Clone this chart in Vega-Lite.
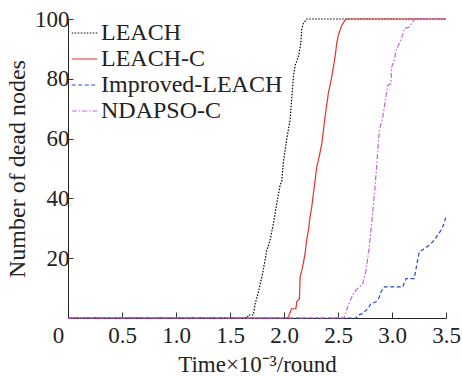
{
  "$schema": "https://vega.github.io/schema/vega-lite/v6.json",
  "width": 378,
  "height": 299,
  "autosize": {"type": "none"},
  "padding": {"left": 68, "top": 19, "right": 16, "bottom": 59},
  "background": "white",
  "config": {
    "view": {"stroke": null},
    "font": "Liberation Serif",
    "axis": {"labelFont": "Liberation Serif", "titleFont": "Liberation Serif"},
    "legend": {"labelFont": "Liberation Serif"}
  },
  "data": {"values": [
    {"s": "LEACH", "x": 0, "y": 0}, {"s": "LEACH", "x": 1.66, "y": 0}, {"s": "LEACH", "x": 1.67, "y": 1}, {"s": "LEACH", "x": 1.715, "y": 1}, {"s": "LEACH", "x": 1.72, "y": 2}, {"s": "LEACH", "x": 1.733, "y": 4.8}, {"s": "LEACH", "x": 1.763, "y": 8.7}, {"s": "LEACH", "x": 1.795, "y": 13.7}, {"s": "LEACH", "x": 1.825, "y": 19.3}, {"s": "LEACH", "x": 1.84, "y": 22.6}, {"s": "LEACH", "x": 1.871, "y": 26}, {"s": "LEACH", "x": 1.902, "y": 31.6}, {"s": "LEACH", "x": 1.933, "y": 38.3}, {"s": "LEACH", "x": 1.964, "y": 44.4}, {"s": "LEACH", "x": 1.98, "y": 46}, {"s": "LEACH", "x": 1.994, "y": 52}, {"s": "LEACH", "x": 2.026, "y": 60}, {"s": "LEACH", "x": 2.056, "y": 66}, {"s": "LEACH", "x": 2.087, "y": 80.6}, {"s": "LEACH", "x": 2.103, "y": 84.5}, {"s": "LEACH", "x": 2.133, "y": 87.3}, {"s": "LEACH", "x": 2.155, "y": 91.8}, {"s": "LEACH", "x": 2.165, "y": 96.8}, {"s": "LEACH", "x": 2.18, "y": 98.5}, {"s": "LEACH", "x": 2.21, "y": 100}, {"s": "LEACH", "x": 3.5, "y": 100},
    {"s": "LEACH-C", "x": 0, "y": 0}, {"s": "LEACH-C", "x": 2.035, "y": 0}, {"s": "LEACH-C", "x": 2.04, "y": 0.5}, {"s": "LEACH-C", "x": 2.05, "y": 1.2}, {"s": "LEACH-C", "x": 2.07, "y": 3.1}, {"s": "LEACH-C", "x": 2.11, "y": 3.1}, {"s": "LEACH-C", "x": 2.118, "y": 5.4}, {"s": "LEACH-C", "x": 2.143, "y": 6.5}, {"s": "LEACH-C", "x": 2.149, "y": 13.7}, {"s": "LEACH-C", "x": 2.165, "y": 16}, {"s": "LEACH-C", "x": 2.18, "y": 18.5}, {"s": "LEACH-C", "x": 2.195, "y": 21.5}, {"s": "LEACH-C", "x": 2.21, "y": 26}, {"s": "LEACH-C", "x": 2.226, "y": 29.3}, {"s": "LEACH-C", "x": 2.241, "y": 33.8}, {"s": "LEACH-C", "x": 2.257, "y": 37.1}, {"s": "LEACH-C", "x": 2.272, "y": 41.6}, {"s": "LEACH-C", "x": 2.288, "y": 46}, {"s": "LEACH-C", "x": 2.303, "y": 50.5}, {"s": "LEACH-C", "x": 2.318, "y": 52.7}, {"s": "LEACH-C", "x": 2.35, "y": 58.3}, {"s": "LEACH-C", "x": 2.38, "y": 67.2}, {"s": "LEACH-C", "x": 2.41, "y": 75}, {"s": "LEACH-C", "x": 2.442, "y": 80.6}, {"s": "LEACH-C", "x": 2.473, "y": 87.3}, {"s": "LEACH-C", "x": 2.488, "y": 91.8}, {"s": "LEACH-C", "x": 2.503, "y": 94.6}, {"s": "LEACH-C", "x": 2.535, "y": 97.9}, {"s": "LEACH-C", "x": 2.565, "y": 99.6}, {"s": "LEACH-C", "x": 2.59, "y": 100}, {"s": "LEACH-C", "x": 3.5, "y": 100},
    {"s": "Improved-LEACH", "x": 0, "y": 0}, {"s": "Improved-LEACH", "x": 2.67, "y": 0}, {"s": "Improved-LEACH", "x": 2.683, "y": 0.9}, {"s": "Improved-LEACH", "x": 2.729, "y": 1.5}, {"s": "Improved-LEACH", "x": 2.775, "y": 3.1}, {"s": "Improved-LEACH", "x": 2.806, "y": 4.8}, {"s": "Improved-LEACH", "x": 2.852, "y": 5.4}, {"s": "Improved-LEACH", "x": 2.883, "y": 7}, {"s": "Improved-LEACH", "x": 2.898, "y": 8.7}, {"s": "Improved-LEACH", "x": 2.93, "y": 10.4}, {"s": "Improved-LEACH", "x": 3.099, "y": 10.4}, {"s": "Improved-LEACH", "x": 3.13, "y": 13.2}, {"s": "Improved-LEACH", "x": 3.206, "y": 13.2}, {"s": "Improved-LEACH", "x": 3.237, "y": 19.3}, {"s": "Improved-LEACH", "x": 3.253, "y": 22.1}, {"s": "Improved-LEACH", "x": 3.299, "y": 23.2}, {"s": "Improved-LEACH", "x": 3.345, "y": 24.3}, {"s": "Improved-LEACH", "x": 3.391, "y": 26}, {"s": "Improved-LEACH", "x": 3.422, "y": 27.7}, {"s": "Improved-LEACH", "x": 3.453, "y": 29.3}, {"s": "Improved-LEACH", "x": 3.484, "y": 31.6}, {"s": "Improved-LEACH", "x": 3.5, "y": 34.3},
    {"s": "NDAPSO-C", "x": 0, "y": 0}, {"s": "NDAPSO-C", "x": 2.55, "y": 0}, {"s": "NDAPSO-C", "x": 2.559, "y": 0.3}, {"s": "NDAPSO-C", "x": 2.59, "y": 3.7}, {"s": "NDAPSO-C", "x": 2.621, "y": 6.5}, {"s": "NDAPSO-C", "x": 2.651, "y": 8.7}, {"s": "NDAPSO-C", "x": 2.698, "y": 10.4}, {"s": "NDAPSO-C", "x": 2.729, "y": 11.5}, {"s": "NDAPSO-C", "x": 2.76, "y": 16}, {"s": "NDAPSO-C", "x": 2.775, "y": 19.9}, {"s": "NDAPSO-C", "x": 2.79, "y": 23.7}, {"s": "NDAPSO-C", "x": 2.808, "y": 30.4}, {"s": "NDAPSO-C", "x": 2.826, "y": 37.1}, {"s": "NDAPSO-C", "x": 2.84, "y": 42.7}, {"s": "NDAPSO-C", "x": 2.855, "y": 49.4}, {"s": "NDAPSO-C", "x": 2.868, "y": 56}, {"s": "NDAPSO-C", "x": 2.883, "y": 62.8}, {"s": "NDAPSO-C", "x": 2.914, "y": 67.2}, {"s": "NDAPSO-C", "x": 2.938, "y": 72.8}, {"s": "NDAPSO-C", "x": 2.96, "y": 77.8}, {"s": "NDAPSO-C", "x": 2.99, "y": 78.4}, {"s": "NDAPSO-C", "x": 2.997, "y": 83.9}, {"s": "NDAPSO-C", "x": 3.021, "y": 86.2}, {"s": "NDAPSO-C", "x": 3.037, "y": 89.5}, {"s": "NDAPSO-C", "x": 3.068, "y": 91.8}, {"s": "NDAPSO-C", "x": 3.099, "y": 94.6}, {"s": "NDAPSO-C", "x": 3.114, "y": 96.8}, {"s": "NDAPSO-C", "x": 3.16, "y": 97.3}, {"s": "NDAPSO-C", "x": 3.19, "y": 99}, {"s": "NDAPSO-C", "x": 3.206, "y": 99.8}, {"s": "NDAPSO-C", "x": 3.22, "y": 100}, {"s": "NDAPSO-C", "x": 3.5, "y": 100}
  ]},
  "mark": {"type": "line", "strokeWidth": 1.2},
  "encoding": {
    "x": {
      "field": "x", "type": "quantitative",
      "scale": {"domain": [0, 3.5], "nice": false, "zero": false},
      "axis": {
        "values": [0, 0.5, 1, 1.5, 2, 2.5, 3, 3.5],
        "labelExpr": "datum.value == 0 ? '0' : format(datum.value, '.1f')",
        "title": "Time×10⁻³/round",
        "titleFont": "Liberation Serif", "labelFont": "Liberation Serif",
        "titleFontSize": 23, "titleFontWeight": "normal", "titleColor": "#222", "titlePadding": 6,
        "labelFontSize": 23, "labelColor": "#222", "labelPadding": 12,
        "labelOffset": {"condition": {"test": "datum.value == 0", "value": -10}, "value": 0},
        "labelFlush": false, "labelOverlap": false, "labelBound": false,
        "tickSize": -6, "tickColor": "#333", "domainColor": "#222", "grid": false
      }
    },
    "y": {
      "field": "y", "type": "quantitative",
      "scale": {"domain": [0, 100], "nice": false},
      "axis": {
        "values": [20, 40, 60, 80, 100],
        "title": "Number of dead nodes",
        "titleFont": "Liberation Serif", "labelFont": "Liberation Serif",
        "titleFontSize": 24, "titleFontWeight": "normal", "titleColor": "#222", "titlePadding": 5,
        "labelFontSize": 23, "labelColor": "#222", "labelPadding": 4,
        "labelFlush": false, "labelOverlap": false, "labelBound": false,
        "tickSize": -5, "tickColor": "#333", "domainColor": "#222", "grid": false
      }
    },
    "color": {
      "field": "s", "type": "nominal",
      "scale": {"domain": ["LEACH", "LEACH-C", "Improved-LEACH", "NDAPSO-C"], "range": ["#000000", "#e8302a", "#2a4bbf", "#c660d8"]},
      "legend": {"title": null, "orient": "none", "legendX": 3, "legendY": 0.5, "symbolType": "stroke", "symbolSize": 650, "symbolStrokeWidth": 1.2, "labelFont": "Liberation Serif", "labelFontSize": 24, "labelColor": "#222", "labelOffset": 3, "rowPadding": 0, "padding": 0, "labelLimit": 0}
    },
    "strokeDash": {
      "field": "s", "type": "nominal",
      "scale": {"domain": ["LEACH", "LEACH-C", "Improved-LEACH", "NDAPSO-C"], "range": [[1.5, 1.5], [1, 0], [4, 2.5], [5, 2, 1.5, 2]]},
      "legend": {"title": null, "orient": "none", "legendX": 3, "legendY": 0.5, "symbolType": "stroke", "symbolSize": 650, "symbolStrokeWidth": 1.2, "labelFont": "Liberation Serif", "labelFontSize": 24, "labelColor": "#222", "labelOffset": 3, "rowPadding": 0, "padding": 0, "labelLimit": 0}
    }
  }
}
